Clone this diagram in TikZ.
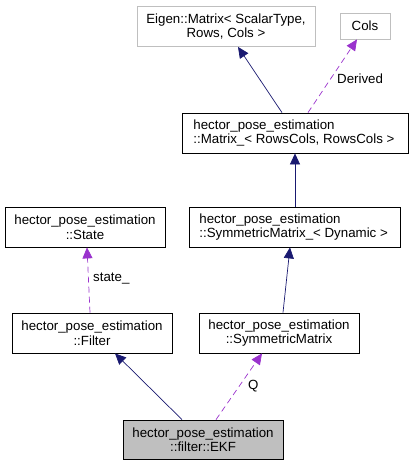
\documentclass[tikz,border=0pt]{standalone}
\usepackage{fontspec}
\setmainfont{Liberation Sans}
\usetikzlibrary{arrows.meta}
\definecolor{navy}{RGB}{25,25,112}
\definecolor{purp}{RGB}{154,50,205}
\definecolor{grayfill}{RGB}{191,191,191}
\begin{document}
\begin{tikzpicture}[x=1pt,y=-1pt,
  box/.style={draw=black,fill=white,line width=0.8pt,inner sep=0pt,font=\fontsize{13.3}{14.5}\selectfont,align=center},
  lbox/.style={box,align=left},
  gbox/.style={box,draw=grayfill},
  inh/.style={draw=navy,line width=0.7pt,-{Triangle[length=11pt,width=10pt,fill=navy]}},
  use/.style={draw=purp,line width=0.7pt,dash pattern=on 6pt off 4pt,-{Triangle[length=11pt,width=10pt,fill=purp]}},
  lbl/.style={font=\fontsize{13.3}{14.5}\selectfont,inner sep=0pt}]
\useasboundingbox (0,0) rectangle (413,467);
\node[gbox,minimum width=178pt,minimum height=40pt] (eig) at (226,26.5) {Eigen::Matrix< ScalarType,\\ Rows, Cols >};
\node[gbox,minimum width=50pt,minimum height=26pt] (cols) at (365,26) {Cols};
\node[box,minimum width=226pt,minimum height=40pt] (mat) at (295,133) {};
\node[lbox,draw=none,fill=none,anchor=west] (matt) at (193,133) {hector\_pose\_estimation\\ ::Matrix\_< RowsCols, RowsCols >};
\node[box,minimum width=160pt,minimum height=40pt] (state) at (85,227) {hector\_pose\_estimation\\ ::State};
\node[box,minimum width=211pt,minimum height=40pt] (smd) at (294.5,227) {};
\node[lbox,draw=none,fill=none,anchor=west] (smdt) at (199,227) {hector\_pose\_estimation\\ ::SymmetricMatrix\_< Dynamic >};
\node[box,minimum width=160pt,minimum height=40pt] (filt) at (92,333) {hector\_pose\_estimation\\ ::Filter};
\node[box,minimum width=160pt,minimum height=40pt] (sm) at (279,333) {hector\_pose\_estimation\\ ::SymmetricMatrix};
\node[box,fill=grayfill,minimum width=160pt,minimum height=39pt] (ekf) at (203,439.5) {hector\_pose\_estimation\\ ::filter::EKF};
\draw[inh] (mat.north -| 282,0) -- (eig.south -| 238,0);
\draw[use] (mat.north -| 308,0) -- (cols.south -| 357,0);
\node[lbl,anchor=west] (lder) at (337,79) {Derived};
\draw[inh] (smd.north -| 295,0) -- (mat.south -| 295,0);
\draw[inh] (sm.north -| 283,0) -- (smd.south -| 290,0);
\draw[use] (filt.north -| 90,0) -- (state.south -| 87,0);
\node[lbl,anchor=west] (lst) at (93,279) {state\_};
\draw[inh] (ekf.north -| 182,0) -- (filt.south -| 115,0);
\draw[use] (ekf.north -| 216,0) -- (sm.south -| 262,0);
\node[lbl,anchor=west] (lq) at (248,386) {Q};
\end{tikzpicture}
\end{document}
